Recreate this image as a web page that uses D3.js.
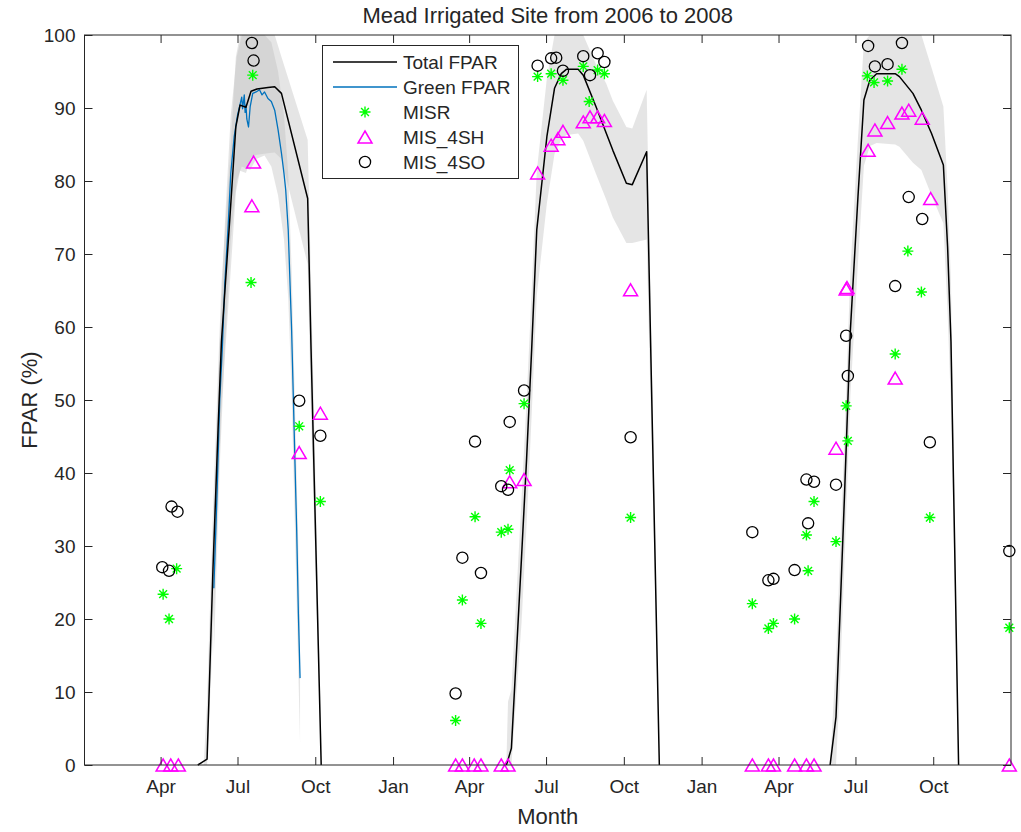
<!DOCTYPE html>
<html><head><meta charset="utf-8">
<script src="https://cdn.jsdelivr.net/npm/d3@7"></script>
<style>
body{margin:0;background:#fff;}
text{font-family:"Liberation Sans",Arial,Helvetica,sans-serif;fill:#262626;}
</style>
</head><body>
<svg id="chart" width="1021" height="832"></svg>
<script>
// ---------- DATA ----------
const titleText = "Mead Irrigated Site from 2006 to 2008";
const xLabel = "Month";
const yLabel = "FPAR (%)";
const tickDates = ["2006-04-01","2006-07-01","2006-10-01","2007-01-01","2007-04-01","2007-07-01","2007-10-01","2008-01-01","2008-04-01","2008-07-01","2008-10-01"];
const tickLabels = ["Apr","Jul","Oct","Jan","Apr","Jul","Oct","Jan","Apr","Jul","Oct"];
const yTicks = [0,10,20,30,40,50,60,70,80,90,100];
const legendLabels = ["Total FPAR","Green FPAR","MISR","MIS_4SH","MIS_4SO"];

// null = gap between growing seasons
const totalDates = ["2006-05-15","2006-05-26","2006-06-02","2006-06-08","2006-06-12","2006-06-22","2006-06-29","2006-07-04","2006-07-11","2006-07-17","2006-07-24","2006-08-06","2006-08-14","2006-08-22","2006-09-22","2006-09-26","2006-10-08",
  "2007-01-01",
  "2007-05-15","2007-05-17","2007-05-21","2007-06-02","2007-06-08","2007-06-14","2007-06-20","2007-07-02","2007-07-11","2007-07-19","2007-07-25","2007-08-08","2007-08-14","2007-08-29","2007-09-18","2007-10-04","2007-10-11","2007-10-28","2007-11-12",
  "2008-01-01",
  "2008-06-01","2008-06-08","2008-06-12","2008-06-18","2008-06-25","2008-07-04","2008-07-11","2008-07-18","2008-07-26","2008-08-17","2008-08-22","2008-09-07","2008-09-17","2008-09-29","2008-10-13","2008-10-18","2008-10-22","2008-10-31"];
const totalValues = [0,0.8,27,46,58,75,87.4,90.4,90.1,92.3,92.6,92.8,92.9,92.0,77.6,57,0,
  null,
  0,0.7,2.3,28.5,42,57,73.3,86.1,92.7,94.7,95.3,95.3,94.5,90.2,84.2,79.7,79.5,84.0,0,
  null,
  0,6.6,18.5,36.8,59.6,77.9,91.1,93.8,94.7,94.7,94.3,92.0,89.7,86.5,82.2,71,58,0];

const greenDates = ["2006-06-03","2006-06-07","2006-06-10","2006-06-13","2006-06-16","2006-06-20","2006-06-23","2006-06-27","2006-07-01","2006-07-04","2006-07-06","2006-07-07","2006-07-08","2006-07-09","2006-07-10","2006-07-11","2006-07-12","2006-07-14","2006-07-16","2006-07-19","2006-07-23","2006-07-27","2006-07-30","2006-08-02","2006-08-06","2006-08-10","2006-08-14","2006-08-18","2006-08-22","2006-08-25","2006-08-27","2006-08-30","2006-09-01","2006-09-03","2006-09-05","2006-09-07","2006-09-09","2006-09-11","2006-09-13"];
const greenValues = [24.2,38,50,57,66,74,81,86,89,90.5,91.5,89.9,90.8,91.8,89.4,90.4,88.5,87.4,90.2,92.0,92.2,92.5,91.8,92.2,91.3,90.9,89.7,87.0,83.8,81.0,78.8,73.3,66.4,59.6,50.5,41.3,32.2,20.8,11.9];

const band2006Dates = ["2006-05-22","2006-05-26","2006-06-02","2006-06-08","2006-06-12","2006-06-22","2006-06-29","2006-07-04","2006-07-11","2006-07-17","2006-07-24","2006-08-06","2006-08-14","2006-08-22","2006-09-22","2006-09-26","2006-10-08"];
const band2006Upper = [0,8.8,35,54,66,83,97,100,100,100,100,100,100,97,85.6,66,4];
const band2006Lower = [0,0,18,37,49,66,78.4,81.4,81.1,83.3,83.6,83.8,83.9,83,68.6,48,0];

const greenBandDates = ["2006-06-03","2006-06-10","2006-06-16","2006-06-23","2006-06-30","2006-07-06","2006-07-16","2006-07-23","2006-08-02","2006-08-10","2006-08-18","2006-08-25","2006-08-30","2006-09-03","2006-09-07","2006-09-13"];
const greenBandUpper = [32,58,74,89,97,100,100,100,100,99,95,89,81,68,49,20];
const greenBandLower = [15,41,57,72,80,82,81.5,83,83.5,82,78,72,64,51,32,3];

const band2007Dates = ["2007-05-15","2007-05-17","2007-05-21","2007-06-02","2007-06-08","2007-06-14","2007-06-20","2007-07-02","2007-07-11","2007-07-19","2007-07-25","2007-08-08","2007-08-14","2007-08-29","2007-09-10","2007-09-18","2007-10-04","2007-10-11","2007-10-28","2007-11-12"];
const band2007Upper = [0,8.7,10.3,36.5,50,65,81.3,94.1,100,100,100,100,100,96,93.4,91,87.4,87.2,92.5,0];
const band2007Lower = [0,0,0,19.5,33,48,64.3,77,83.7,85.7,86.3,86.5,85.5,81,77.5,75,71.5,71.5,72,0];

const band2008Dates = ["2008-06-01","2008-06-08","2008-06-12","2008-06-18","2008-06-25","2008-07-04","2008-07-11","2008-07-18","2008-07-26","2008-08-17","2008-08-22","2008-09-07","2008-09-17","2008-09-29","2008-10-13","2008-10-18","2008-10-22","2008-10-31"];
const band2008Upper = [0,14.6,26.5,44.8,67.6,85.9,99,100,100,100,100,100,100,95.5,90.2,79,66,0];
const band2008Lower = [0,0,9.5,27.8,50.6,68.9,82.1,84.8,85.2,85,84.7,82.5,81.5,78,74.2,62,49,0];

const misrDates = ["2006-04-04","2006-04-11","2006-04-20","2006-07-17","2006-07-19","2006-09-12","2006-10-07",
  "2007-03-16","2007-03-24","2007-04-08","2007-04-15","2007-05-09","2007-05-17","2007-05-19","2007-06-05","2007-06-21","2007-07-07","2007-07-21","2007-08-14","2007-08-21","2007-08-31","2007-09-08","2007-10-09",
  "2008-03-01","2008-03-20","2008-03-26","2008-04-20","2008-05-04","2008-05-06","2008-05-13","2008-06-08","2008-06-20","2008-06-22","2008-07-15","2008-07-23","2008-08-08","2008-08-17","2008-08-25","2008-09-01","2008-09-17","2008-09-27","2008-12-30"];
const misrValues = [23.4,20.0,26.9,66.1,94.5,46.4,36.1,
  6.1,22.6,34.0,19.4,31.9,32.3,40.4,49.5,94.3,94.7,93.8,95.7,90.9,95.2,94.7,33.9,
  22.1,18.7,19.4,20.0,31.5,26.6,36.1,30.6,49.2,44.4,94.4,93.5,93.7,56.3,95.3,70.4,64.8,33.9,18.8];

const mis4shDates = ["2006-04-04","2006-04-13","2006-04-22","2006-07-18","2006-07-20","2006-09-12","2006-10-07",
  "2007-03-16","2007-03-24","2007-04-07","2007-04-15","2007-05-09","2007-05-17","2007-05-19","2007-06-05","2007-06-21","2007-07-07","2007-07-15","2007-07-21","2007-08-14","2007-08-22","2007-08-31","2007-09-08","2007-10-09",
  "2008-03-01","2008-03-20","2008-03-26","2008-04-20","2008-05-04","2008-05-13","2008-06-08","2008-06-20","2008-06-21","2008-07-16","2008-07-24","2008-08-08","2008-08-17","2008-08-25","2008-09-02","2008-09-18","2008-09-28","2008-12-30"];
const mis4shValues = [0,0,0,76.6,82.6,42.8,48.2,
  0,0,0,0,0,0,38.8,39.1,81.1,84.9,85.8,86.8,88.1,88.8,88.8,88.3,65.1,
  0,0,0,0,0,0,43.4,65.2,65.4,84.2,87.0,88.0,53.0,89.3,89.7,88.6,77.6,0];

const mis4soDates = ["2006-04-03","2006-04-11","2006-04-14","2006-04-21","2006-07-18","2006-07-20","2006-09-12","2006-10-07",
  "2007-03-16","2007-03-24","2007-04-08","2007-04-15","2007-05-09","2007-05-17","2007-05-19","2007-06-05","2007-06-21","2007-07-07","2007-07-13","2007-07-21","2007-08-14","2007-08-22","2007-08-31","2007-09-08","2007-10-09",
  "2008-03-01","2008-03-20","2008-03-26","2008-04-20","2008-05-04","2008-05-06","2008-05-13","2008-06-08","2008-06-20","2008-06-22","2008-07-16","2008-07-24","2008-08-08","2008-08-17","2008-08-25","2008-09-02","2008-09-18","2008-09-27","2008-12-30"];
const mis4soValues = [27.1,26.6,35.4,34.7,98.9,96.5,49.9,45.1,
  9.8,28.4,44.3,26.3,38.2,37.7,47.0,51.3,95.8,96.8,96.9,95.1,97.1,94.5,97.5,96.3,44.9,
  31.9,25.3,25.5,26.7,39.1,33.1,38.8,38.4,58.8,53.3,98.5,95.7,96.0,65.6,98.9,77.8,74.8,44.2,29.3];

// ---------- STYLE / LAYOUT ----------
const C = {total:"#000000", green:"#0072BD", misr:"#00FF00", sh:"#FF00FF", so:"#000000", axis:"#262626", band:"#bfbfbf"};
const L = 84.5, R = 1011, T = 35, B = 765;
const parse = d3.utcParse("%Y-%m-%d");
const svg = d3.select("#chart");

const x = d3.scaleUtc().domain([parse("2006-01-01"), parse("2009-01-01")]).range([L, R]);
const y = d3.scaleLinear().domain([0, 100]).range([B, T]);

const zip2 = (ds, vs) => ds.map((d, i) => ({d: parse(d), v: vs[i]}));
const zip3 = (ds, lo, hi) => ds.map((d, i) => ({d: parse(d), lo: lo[i], hi: hi[i]}));

// bands
const area = d3.area().x(p => x(p.d)).y0(p => y(p.lo)).y1(p => y(p.hi));
const gBands = svg.append("g");
[[band2006Dates, band2006Lower, band2006Upper],
 [greenBandDates, greenBandLower, greenBandUpper],
 [band2007Dates, band2007Lower, band2007Upper],
 [band2008Dates, band2008Lower, band2008Upper]].forEach(b => {
  gBands.append("path").attr("d", area(zip3(b[0], b[1], b[2])))
    .attr("fill", C.band).attr("fill-opacity", 0.4).attr("stroke", "none");
});

// lines
const line = d3.line().defined(p => p.v !== null).x(p => x(p.d)).y(p => y(p.v));
svg.append("path").attr("d", line(zip2(greenDates, greenValues)))
  .attr("fill", "none").attr("stroke", C.green).attr("stroke-width", 1.3).attr("stroke-linejoin", "round");
svg.append("path").attr("d", line(zip2(totalDates, totalValues)))
  .attr("fill", "none").attr("stroke", C.total).attr("stroke-width", 1.5).attr("stroke-linejoin", "round");

// marker shapes
const starPath = "M-5.5,0L5.5,0M0,-5.5L0,5.5M-3.9,-3.9L3.9,3.9M-3.9,3.9L3.9,-3.9";
const triPath = "M0,-6L7,6L-7,6Z";

function drawStars(g, pts){
  g.selectAll(null).data(pts).join("path")
    .attr("transform", p => `translate(${x(p.d)},${y(p.v)})`)
    .attr("d", starPath).attr("fill", "none").attr("stroke", C.misr).attr("stroke-width", 1.4);
}
function drawTris(g, pts){
  g.selectAll(null).data(pts).join("path")
    .attr("transform", p => `translate(${x(p.d)},${y(p.v)})`)
    .attr("d", triPath).attr("fill", "none").attr("stroke", C.sh).attr("stroke-width", 1.5);
}
function drawCircles(g, pts){
  g.selectAll(null).data(pts).join("circle")
    .attr("cx", p => x(p.d)).attr("cy", p => y(p.v)).attr("r", 5.6)
    .attr("fill", "none").attr("stroke", C.so).attr("stroke-width", 1.3);
}
drawStars(svg.append("g"), zip2(misrDates, misrValues));
drawTris(svg.append("g"), zip2(mis4shDates, mis4shValues));
drawCircles(svg.append("g"), zip2(mis4soDates, mis4soValues));

// axes
const tickD = tickDates.map(parse);
const gx = svg.append("g").attr("transform", `translate(0,${B})`)
  .call(d3.axisBottom(x).tickValues(tickD).tickFormat((d, i) => tickLabels[i]).tickSizeInner(-8).tickSizeOuter(0).tickPadding(15));
const gxt = svg.append("g").attr("transform", `translate(0,${T})`)
  .call(d3.axisTop(x).tickValues(tickD).tickFormat("").tickSizeInner(-8).tickSizeOuter(0));
const gy = svg.append("g").attr("transform", `translate(${L},0)`)
  .call(d3.axisLeft(y).tickValues(yTicks).tickFormat(d3.format("d")).tickSizeInner(-8).tickSizeOuter(0).tickPadding(9));
const gyr = svg.append("g").attr("transform", `translate(${R},0)`)
  .call(d3.axisRight(y).tickValues(yTicks).tickFormat("").tickSizeInner(-8).tickSizeOuter(0));
[gx, gxt, gy, gyr].forEach(g => {
  g.select(".domain").remove();
  g.selectAll(".tick line").attr("stroke", C.axis).attr("stroke-width", 1);
  g.selectAll("text").attr("font-size", 19).attr("fill", C.axis).attr("font-family", "Liberation Sans, Arial, sans-serif");
});
svg.append("rect").attr("x", L).attr("y", T).attr("width", R - L).attr("height", B - T)
  .attr("fill", "none").attr("stroke", C.axis).attr("stroke-width", 1);

// titles
svg.append("text").attr("x", (L + R) / 2).attr("y", 23).attr("text-anchor", "middle")
  .attr("font-size", 22).text(titleText);
svg.append("text").attr("x", (L + R) / 2).attr("y", 824).attr("text-anchor", "middle")
  .attr("font-size", 22).text(xLabel);
svg.append("text").attr("transform", `translate(37,${(T + B) / 2}) rotate(-90)`).attr("text-anchor", "middle")
  .attr("font-size", 22).text(yLabel);

// legend
const lg = svg.append("g");
lg.append("rect").attr("x", 322.5).attr("y", 45.5).attr("width", 196).attr("height", 133)
  .attr("fill", "#fff").attr("stroke", C.axis).attr("stroke-width", 1);
const rowY = i => 62 + 25 * i;
lg.append("line").attr("x1", 333).attr("x2", 397).attr("y1", rowY(0)).attr("y2", rowY(0)).attr("stroke", C.total).attr("stroke-width", 1.5);
lg.append("line").attr("x1", 333).attr("x2", 397).attr("y1", rowY(1)).attr("y2", rowY(1)).attr("stroke", C.green).attr("stroke-width", 1.5);
lg.append("path").attr("transform", `translate(365,${rowY(2)})`).attr("d", starPath).attr("fill", "none").attr("stroke", C.misr).attr("stroke-width", 1.4);
lg.append("path").attr("transform", `translate(365,${rowY(3)})`).attr("d", triPath).attr("fill", "none").attr("stroke", C.sh).attr("stroke-width", 1.5);
lg.append("circle").attr("cx", 365).attr("cy", rowY(4)).attr("r", 5.6).attr("fill", "none").attr("stroke", C.so).attr("stroke-width", 1.3);
legendLabels.forEach((t, i) => {
  lg.append("text").attr("x", 403).attr("y", rowY(i)).attr("dy", "0.36em").attr("font-size", 19).text(t);
});
</script>
</body></html>
